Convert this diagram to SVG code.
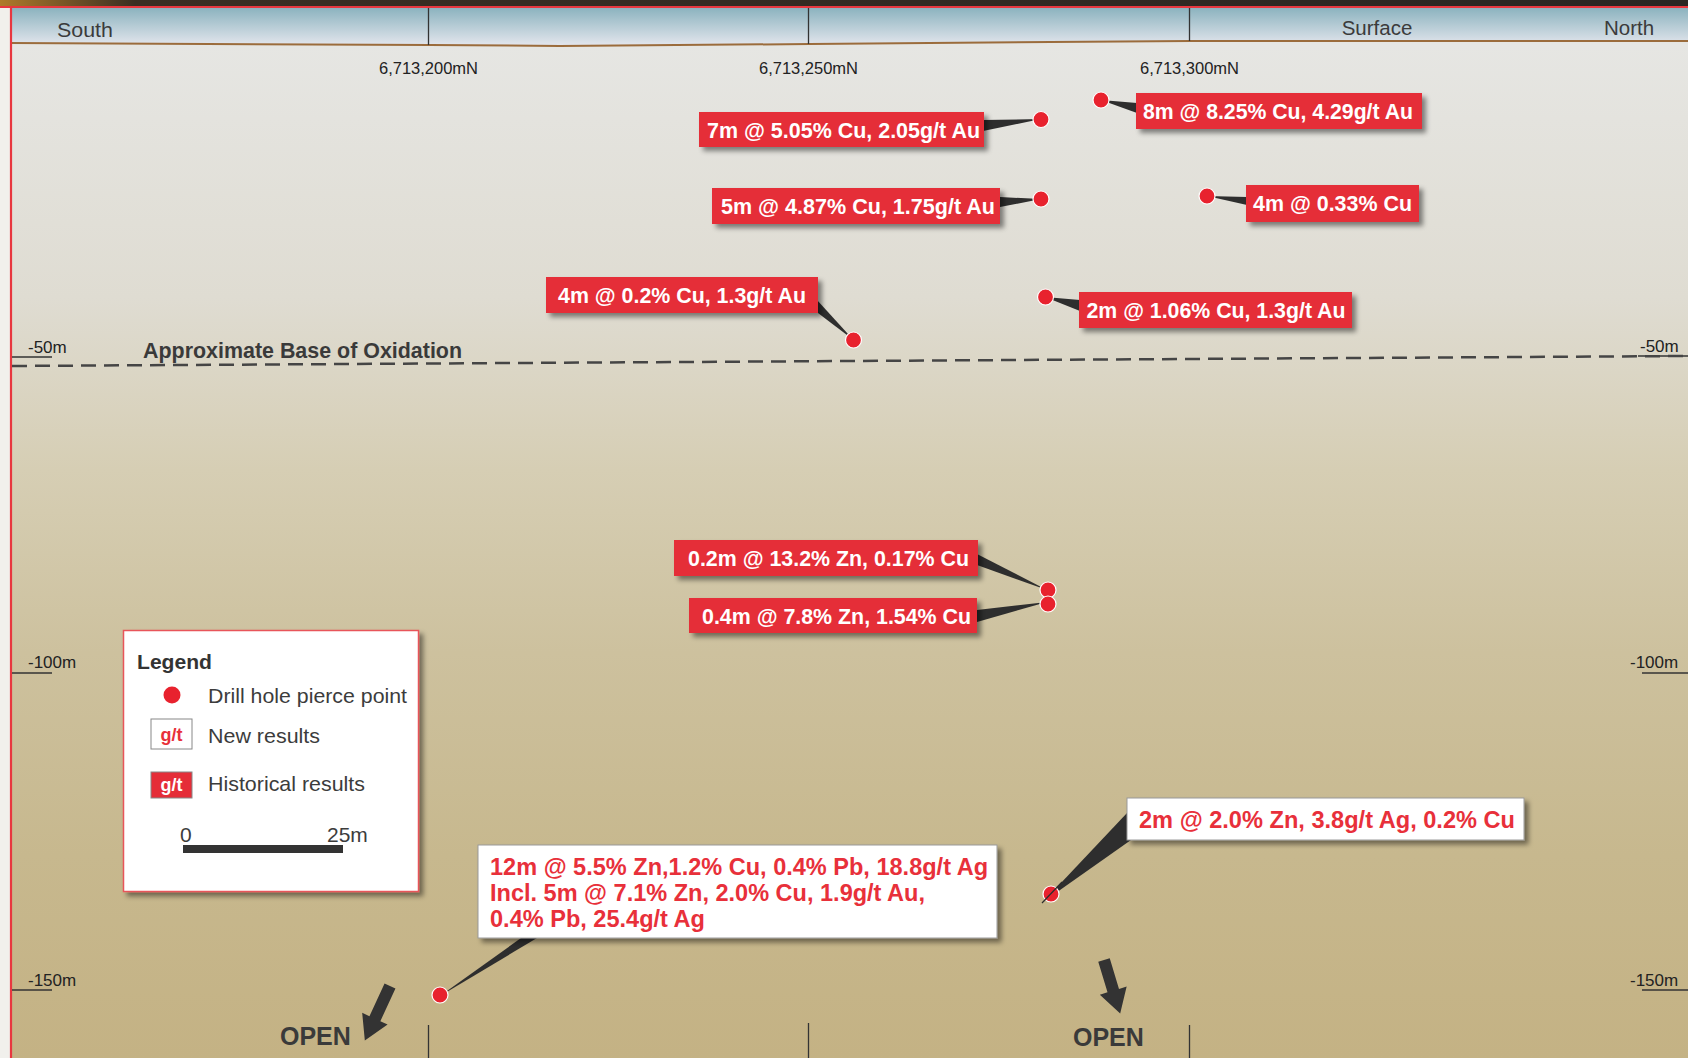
<svg xmlns="http://www.w3.org/2000/svg" width="1688" height="1058" viewBox="0 0 1688 1058">
<defs>
<linearGradient id="earth" x1="0" y1="44" x2="0" y2="1058" gradientUnits="userSpaceOnUse">
<stop offset="0" stop-color="#e6e6e3"/>
<stop offset="0.25" stop-color="#dfdcd2"/>
<stop offset="0.42" stop-color="#d6ceb4"/>
<stop offset="0.6" stop-color="#cdc19e"/>
<stop offset="0.8" stop-color="#c7b88e"/>
<stop offset="1" stop-color="#c4b284"/>
</linearGradient>
<linearGradient id="sky" x1="0" y1="8" x2="0" y2="44" gradientUnits="userSpaceOnUse">
<stop offset="0" stop-color="#8cb3bf"/>
<stop offset="1" stop-color="#e0e4eb"/>
</linearGradient>
<linearGradient id="topstrip" x1="0" y1="0" x2="1688" y2="0" gradientUnits="userSpaceOnUse">
<stop offset="0" stop-color="#b07a2a"/>
<stop offset="0.08" stop-color="#3a2e22"/>
<stop offset="1" stop-color="#2a2622"/>
</linearGradient>
<filter id="shadow" x="-10%" y="-30%" width="125%" height="170%">
<feDropShadow dx="4" dy="4" stdDeviation="2.5" flood-color="#000" flood-opacity="0.45"/>
</filter>
<style>
text{font-family:"Liberation Sans",Arial,sans-serif}
.hdr{font-size:20.5px;fill:#3b3b3b}
.east{font-size:16.5px;fill:#222}
.depth{font-size:17px;fill:#222}
.tick{stroke:#333;stroke-width:1.3}
.grid{stroke:#333;stroke-width:1.3}
.hbox{fill:#e52d38;filter:url(#shadow)}
.htxt{font-size:21.5px;font-weight:bold;fill:#fff;text-anchor:middle}
.nbox{fill:#fff;stroke:#9a9a9a;stroke-width:1;filter:url(#shadow)}
.ntxt{font-size:23px;font-weight:bold;fill:#e8303a}
.dot{fill:#e8222e;stroke:#fff;stroke-width:1.2}
.lead{fill:#2e2e2e}
.open{font-size:25px;font-weight:bold;fill:#3a3a3a}
.arrow{fill:#333}
.leg{font-size:21px;fill:#3c3c3c}
</style>
</defs>

<!-- background -->
<rect x="0" y="0" width="1688" height="1058" fill="#f1f0ec"/>
<rect x="11" y="8" width="1677" height="1050" fill="url(#earth)"/>
<path d="M11,8 H1688 V41 L1190,41 L810,44 L560,46 L430,45 L11,43 Z" fill="url(#sky)"/>
<polyline points="11,43 430,45 560,46 810,44 1190,41 1688,41" fill="none" stroke="#9b6c3c" stroke-width="2"/>
<rect x="0" y="0" width="1688" height="6" fill="url(#topstrip)"/>
<line x1="0" y1="7" x2="1688" y2="7" stroke="#e8373f" stroke-width="2.2"/>
<line x1="11" y1="6" x2="11" y2="1058" stroke="#e8373f" stroke-width="2.2"/>

<!-- header -->
<g id="header">
<line class="grid" x1="428.5" y1="8" x2="428.5" y2="45"/>
<line class="grid" x1="808.5" y1="8" x2="808.5" y2="44"/>
<line class="grid" x1="1189.5" y1="8" x2="1189.5" y2="41"/>
<text class="hdr" x="57" y="37" textLength="56" lengthAdjust="spacingAndGlyphs">South</text>
<text class="hdr" x="1377" y="35" text-anchor="middle">Surface</text>
<text class="hdr" x="1629" y="35" text-anchor="middle">North</text>
<text class="east" x="428.5" y="74" text-anchor="middle">6,713,200mN</text>
<text class="east" x="808.5" y="74" text-anchor="middle">6,713,250mN</text>
<text class="east" x="1189.5" y="74" text-anchor="middle">6,713,300mN</text>
</g>

<!-- bottom grid -->
<g id="bottom-grid">
<line class="grid" x1="428.5" y1="1025" x2="428.5" y2="1058"/>
<line class="grid" x1="808.5" y1="1023" x2="808.5" y2="1058"/>
<line class="grid" x1="1189.5" y1="1025" x2="1189.5" y2="1058"/>
</g>

<!-- depth scale -->
<g id="depths">
<line class="tick" x1="12" y1="357" x2="52" y2="357"/>
<text class="depth" x="28" y="353">-50m</text>
<line class="tick" x1="12" y1="673" x2="52" y2="673"/>
<text class="depth" x="28" y="668">-100m</text>
<line class="tick" x1="12" y1="990" x2="52" y2="990"/>
<text class="depth" x="28" y="986">-150m</text>
<line class="tick" x1="1638" y1="356" x2="1688" y2="356"/>
<text class="depth" x="1640" y="352">-50m</text>
<line class="tick" x1="1642" y1="673" x2="1688" y2="673"/>
<text class="depth" x="1630" y="668">-100m</text>
<line class="tick" x1="1642" y1="990" x2="1688" y2="990"/>
<text class="depth" x="1630" y="986">-150m</text>
</g>

<!-- oxidation line -->
<g id="oxidation">
<line x1="12" y1="366" x2="1688" y2="356" stroke="#454545" stroke-width="2.5" stroke-dasharray="15,8"/>
<text x="143" y="358" font-size="21.5" font-weight="bold" fill="#3a3a3a" textLength="319" lengthAdjust="spacingAndGlyphs">Approximate Base of Oxidation</text>
</g>

<!-- connectors -->
<g id="connectors">
<polygon class="lead" points="983,120 983,131 1041,119"/>
<polygon class="lead" points="1101,100 1137,103 1137,113"/>
<polygon class="lead" points="1000,197 1000,207 1041,199"/>
<polygon class="lead" points="1207,196 1247,197 1247,205"/>
<polygon class="lead" points="817,300 818,313 853.5,340"/>
<polygon class="lead" points="1045,297 1080,300 1080,311"/>
<polygon class="lead" points="977,554 977,565 1047,590"/>
<polygon class="lead" points="977,610 977,622 1047,602"/>
<polygon class="lead" points="1127,813 1131,840 1043,902"/>
<polygon class="lead" points="521,938 537,938 440,996"/>
</g>

<!-- historical results -->
<g id="n1"><rect class="hbox" x="699" y="112" width="285" height="35"/><text class="htxt" x="843.5" y="137.5" textLength="273" lengthAdjust="spacingAndGlyphs">7m @ 5.05% Cu, 2.05g/t Au</text></g>
<g id="n2"><rect class="hbox" x="1136" y="93" width="286" height="36"/><text class="htxt" x="1278" y="119" textLength="270" lengthAdjust="spacingAndGlyphs">8m @ 8.25% Cu, 4.29g/t Au</text></g>
<g id="n3"><rect class="hbox" x="712" y="188" width="288" height="36"/><text class="htxt" x="858" y="214" textLength="274" lengthAdjust="spacingAndGlyphs">5m @ 4.87% Cu, 1.75g/t Au</text></g>
<g id="n4"><rect class="hbox" x="1246" y="185" width="173" height="37"/><text class="htxt" x="1332.5" y="211" textLength="159" lengthAdjust="spacingAndGlyphs">4m @ 0.33% Cu</text></g>
<g id="n5"><rect class="hbox" x="546" y="277" width="272" height="36"/><text class="htxt" x="682" y="303" textLength="248" lengthAdjust="spacingAndGlyphs">4m @ 0.2% Cu, 1.3g/t Au</text></g>
<g id="n6"><rect class="hbox" x="1079" y="292" width="273" height="36"/><text class="htxt" x="1216" y="318" textLength="259" lengthAdjust="spacingAndGlyphs">2m @ 1.06% Cu, 1.3g/t Au</text></g>
<g id="n7"><rect class="hbox" x="674" y="540" width="304" height="36"/><text class="htxt" x="828.5" y="566" textLength="281" lengthAdjust="spacingAndGlyphs">0.2m @ 13.2% Zn, 0.17% Cu</text></g>
<g id="n8"><rect class="hbox" x="689" y="598" width="288" height="35"/><text class="htxt" x="836.5" y="623.5" textLength="269" lengthAdjust="spacingAndGlyphs">0.4m @ 7.8% Zn, 1.54% Cu</text></g>

<!-- new results -->
<g id="n9"><rect class="nbox" x="1127" y="798" width="397" height="42"/><text class="ntxt" x="1139" y="827.5" textLength="376" lengthAdjust="spacingAndGlyphs">2m @ 2.0% Zn, 3.8g/t Ag, 0.2% Cu</text></g>
<g id="n10"><rect class="nbox" x="478" y="845" width="519" height="93"/>
<text class="ntxt" x="490" y="875" textLength="498" lengthAdjust="spacingAndGlyphs">12m @ 5.5% Zn,1.2% Cu, 0.4% Pb, 18.8g/t Ag</text>
<text class="ntxt" x="490" y="901" textLength="435" lengthAdjust="spacingAndGlyphs">Incl. 5m @ 7.1% Zn, 2.0% Cu, 1.9g/t Au,</text>
<text class="ntxt" x="490" y="927" textLength="215" lengthAdjust="spacingAndGlyphs">0.4% Pb, 25.4g/t Ag</text></g>

<!-- drill hole pierce points -->
<g id="dots">
<circle class="dot" cx="1041" cy="119.5" r="8"/>
<circle class="dot" cx="1101" cy="100" r="8"/>
<circle class="dot" cx="1041" cy="199" r="8"/>
<circle class="dot" cx="1207" cy="196" r="8"/>
<circle class="dot" cx="853.5" cy="340" r="8"/>
<circle class="dot" cx="1045.5" cy="297" r="8"/>
<circle class="dot" cx="1048" cy="590" r="8"/>
<circle class="dot" cx="1048" cy="604" r="8"/>
<circle class="dot" cx="1051" cy="894" r="8"/>
<circle class="dot" cx="440" cy="995" r="8"/>
</g>
<line x1="1062" y1="882" x2="1042" y2="903" stroke="#2e2e2e" stroke-width="1.2"/>

<!-- OPEN arrows -->
<g id="open-left">
<polygon class="arrow" transform="translate(390,986) rotate(24.8)" points="-6,0 6,0 6,36 14,36 0,60 -14,36 -6,36"/>
<text class="open" x="280" y="1045">OPEN</text>
</g>
<g id="open-right">
<polygon class="arrow" transform="translate(1104,960) rotate(-16.8)" points="-6,0 6,0 6,32 14,32 0,56 -14,32 -6,32"/>
<text class="open" x="1073" y="1046">OPEN</text>
</g>

<!-- legend -->
<g id="legend">
<rect x="123.5" y="630.5" width="295" height="261" fill="#fff" stroke="#e8555a" stroke-width="1.5" filter="url(#shadow)"/>
<text x="137" y="669" font-size="20.5" font-weight="bold" fill="#333" textLength="75" lengthAdjust="spacingAndGlyphs">Legend</text>
<circle cx="172" cy="695" r="8.5" fill="#e8222e"/>
<text class="leg" x="208" y="703" textLength="199" lengthAdjust="spacingAndGlyphs">Drill hole pierce point</text>
<rect x="151" y="719" width="41" height="30" fill="#fff" stroke="#888" stroke-width="1"/>
<text x="171.5" y="741" font-size="18" font-weight="bold" fill="#e8303a" text-anchor="middle">g/t</text>
<text class="leg" x="208" y="743" textLength="112" lengthAdjust="spacingAndGlyphs">New results</text>
<rect x="151" y="772" width="41" height="26" fill="#e52d38" stroke="#888" stroke-width="1"/>
<text x="171.5" y="791" font-size="18" font-weight="bold" fill="#fff" text-anchor="middle">g/t</text>
<text class="leg" x="208" y="791" textLength="157" lengthAdjust="spacingAndGlyphs">Historical results</text>
<text class="leg" x="180" y="842">0</text>
<text class="leg" x="327" y="842">25m</text>
<rect x="183" y="845" width="160" height="8" fill="#333"/>
</g>
</svg>
